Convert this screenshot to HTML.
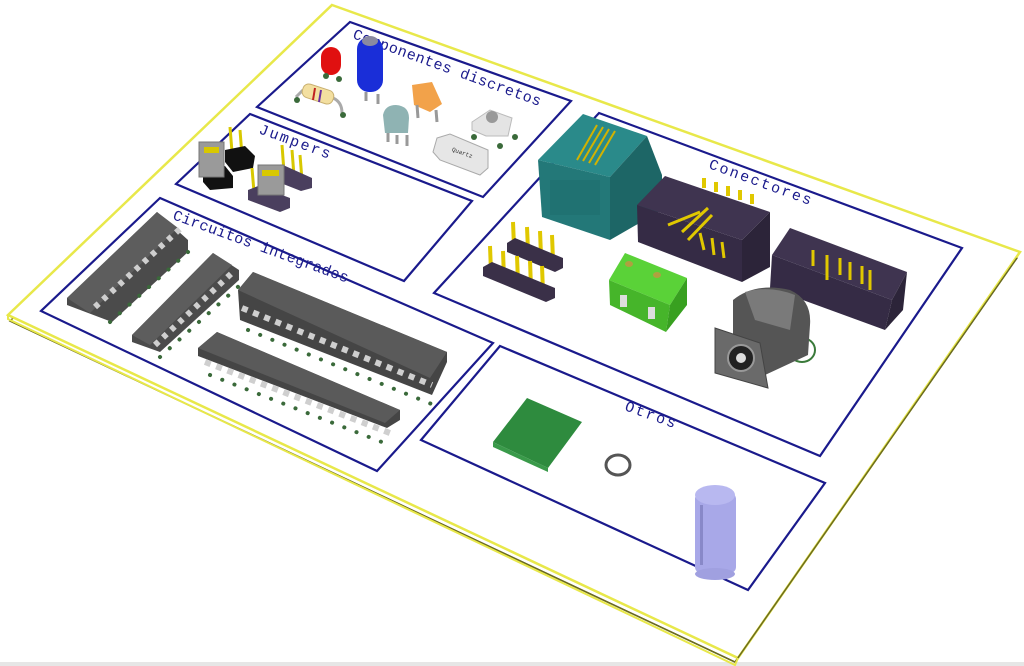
<!DOCTYPE html>
<html><head><meta charset="utf-8"><style>
html,body{margin:0;padding:0;background:#fff;width:1024px;height:666px;overflow:hidden}
svg{display:block}
text{font-family:"Liberation Mono",monospace;fill:#1a1a8c;font-size:15px;letter-spacing:2px}
</style></head><body>
<svg width="1024" height="666" viewBox="0 0 1024 666" xmlns="http://www.w3.org/2000/svg">
<rect x="0" y="662" width="1024" height="4" fill="#e6e6e6"/>
<!-- board -->
<polygon points="333,11 1017,258 735,662 10,321" fill="none" stroke="#6b6b20" stroke-width="1.5"/>
<polygon points="332,5 1020,252 738,658 8,315" fill="#fff" stroke="#e8e84a" stroke-width="2.5"/>
<polyline points="10,321 735,662 1017,258" fill="none" stroke="#6b6b20" stroke-width="1.5"/>
<polyline points="8,315 8,319 735,665 738,658" fill="none" stroke="#e8e84a" stroke-width="2"/>
<!-- section boxes -->
<g fill="none" stroke="#1a1a8c" stroke-width="2.2">
<polygon points="350,22 571,101 483,197 257,107"/>
<polygon points="250,114 472,201 404,281 176,184"/>
<polygon points="599,113 962,248 820,456 434,293"/>
<polygon points="160,198 493,343 377,471 41,311"/>
<polygon points="500,346 825,483 748,590 421,440"/>
</g>
<g>
<text transform="translate(352,38) rotate(20)" style="letter-spacing:0.5px">Componentes discretos</text>
<text transform="translate(258,133) rotate(20)">Jumpers</text>
<text transform="translate(708,168) rotate(20)">Conectores</text>
<text transform="translate(172,219) rotate(20)" style="letter-spacing:0.3px">Circuitos integrados</text>
<text transform="translate(624,410) rotate(20)">Otros</text>
</g>
<!-- discretos -->
<g>
<rect x="321" y="47" width="20" height="28" rx="10" fill="#e01010"/>
<circle cx="326" cy="76" r="3" fill="#3a6a3a"/><circle cx="339" cy="79" r="3" fill="#3a6a3a"/>
<rect x="357" y="37" width="26" height="55" rx="12" fill="#1a2ed8"/>
<ellipse cx="370" cy="41" rx="8" ry="5" fill="#8a8aa0"/>
<line x1="366" y1="92" x2="366" y2="101" stroke="#999" stroke-width="3"/><line x1="378" y1="94" x2="378" y2="104" stroke="#999" stroke-width="3"/>
<path d="M296,97 L303,90 M333,98 Q342,102 342,113" stroke="#aaa" stroke-width="3" fill="none"/>
<rect x="302" y="87" width="32" height="14" rx="6" transform="rotate(18 318 94)" fill="#f3dfa0" stroke="#c9b070"/>
<line x1="315" y1="88" x2="313" y2="100" stroke="#c02020" stroke-width="2"/><line x1="321" y1="90" x2="319" y2="102" stroke="#6a30a0" stroke-width="2"/>
<circle cx="297" cy="100" r="3" fill="#3a6a3a"/><circle cx="343" cy="115" r="3" fill="#3a6a3a"/>
<polygon points="412,85 432,82 442,104 430,112 414,105" fill="#f2a24a"/>
<line x1="417" y1="105" x2="418" y2="118" stroke="#999" stroke-width="3"/><line x1="436" y1="110" x2="437" y2="122" stroke="#999" stroke-width="3"/>
<path d="M383,115 Q385,105 396,105 Q409,106 409,118 L408,133 L385,133 Z" fill="#8fb3b3"/>
<line x1="388" y1="133" x2="388" y2="142" stroke="#999" stroke-width="3"/><line x1="397" y1="135" x2="397" y2="144" stroke="#999" stroke-width="3"/><line x1="407" y1="135" x2="407" y2="146" stroke="#999" stroke-width="3"/>
<polygon points="472,122 490,110 512,118 508,136 486,136 472,130" fill="#e4e4e4" stroke="#bbb"/>
<circle cx="492" cy="117" r="6" fill="#999"/>
<circle cx="474" cy="137" r="3" fill="#3a6a3a"/><circle cx="515" cy="137" r="3" fill="#3a6a3a"/><circle cx="500" cy="146" r="3" fill="#3a6a3a"/>
<path d="M437,138 L450,134 L488,150 L488,168 L480,175 L440,160 L433,152 Z" fill="#e6e6e6" stroke="#aaa"/>
<text x="452" y="152" transform="rotate(20 455 150)" style="font-size:6px;fill:#333;letter-spacing:0">Quartz</text>
</g>
<!-- jumpers -->
<g>
<line x1="230" y1="127" x2="232" y2="152" stroke="#d8c800" stroke-width="3"/><line x1="240" y1="130" x2="242" y2="156" stroke="#d8c800" stroke-width="3"/>
<polygon points="225,150 245,146 255,156 253,168 233,172 225,162" fill="#111"/>
<polygon points="203,170 225,166 233,176 233,188 210,190 203,182" fill="#111"/>
<rect x="199" y="142" width="25" height="35" fill="#9a9a9a" stroke="#777"/>
<rect x="204" y="147" width="15" height="6" fill="#d8c800"/>
<line x1="282" y1="145" x2="284" y2="172" stroke="#d8c800" stroke-width="3"/><line x1="292" y1="150" x2="294" y2="176" stroke="#d8c800" stroke-width="3"/><line x1="300" y1="155" x2="302" y2="180" stroke="#d8c800" stroke-width="3"/>
<polygon points="273,167 283,165 312,178 312,188 301,191 273,180" fill="#4a3f5e"/>
<line x1="252" y1="168" x2="254" y2="192" stroke="#d8c800" stroke-width="3"/>
<polygon points="248,190 258,186 290,198 290,208 280,212 248,200" fill="#4a3f5e"/>
<rect x="258" y="165" width="26" height="30" fill="#9a9a9a" stroke="#777"/>
<rect x="262" y="170" width="17" height="6" fill="#d8c800"/>
</g>
<!-- ICs -->
<g>
<polygon points="67,298 157,212 188,240 188,252 112,322 67,305" fill="#4b4b4b"/>
<polygon points="67,298 157,212 178,228 90,313" fill="#5d5d5d"/>
<polygon points="132,335 213,253 239,270 239,280 160,352 132,342" fill="#4b4b4b"/>
<polygon points="132,335 213,253 232,265 150,345" fill="#5d5d5d"/>
<polygon points="238,290 253,272 447,352 447,362 432,395 240,320" fill="#454545"/>
<polygon points="238,290 253,272 447,352 430,378" fill="#5a5a5a"/>
<polygon points="198,348 217,332 400,410 400,420 387,428 198,356" fill="#454545"/>
<polygon points="198,348 217,332 400,410 385,423" fill="#5a5a5a"/>
<g stroke="#cfcfcf" stroke-width="6">
<line x1="95" y1="307" x2="181" y2="228" stroke-dasharray="5 6"/>
<line x1="155" y1="345" x2="233" y2="272" stroke-dasharray="5 6"/>
<line x1="242" y1="308" x2="432" y2="385" stroke-dasharray="6 6"/>
<line x1="205" y1="362" x2="395" y2="435" stroke-dasharray="6 6"/>
</g>
<g stroke="#3a6a3a" stroke-width="4" stroke-linecap="round">
<line x1="110" y1="322" x2="188" y2="252" stroke-dasharray="0.1 13"/>
<line x1="160" y1="357" x2="240" y2="285" stroke-dasharray="0.1 13"/>
<line x1="248" y1="330" x2="434" y2="405" stroke-dasharray="0.1 13"/>
<line x1="210" y1="375" x2="392" y2="446" stroke-dasharray="0.1 13"/>
</g>
</g>
<!-- connectors -->
<g>
<polygon points="538,160 583,114 647,136 610,177" fill="#2a8a8a"/>
<polygon points="538,160 610,177 610,240 542,217" fill="#237878"/>
<polygon points="610,177 647,136 662,175 662,210 610,240" fill="#1d6666"/>
<rect x="550" y="180" width="50" height="35" fill="#1e6e6e" opacity=".6"/>
<g stroke="#d2b200" stroke-width="2"><line x1="577" y1="160" x2="597" y2="125"/><line x1="583" y1="161" x2="603" y2="127"/><line x1="589" y1="163" x2="609" y2="129"/><line x1="595" y1="165" x2="615" y2="131"/></g>
<g stroke="#e0c800" stroke-width="4"><line x1="704" y1="178" x2="704" y2="188"/><line x1="716" y1="182" x2="716" y2="192"/><line x1="728" y1="186" x2="728" y2="196"/><line x1="740" y1="190" x2="740" y2="200"/><line x1="752" y1="194" x2="752" y2="204"/></g>
<polygon points="637,205 665,176 770,212 742,240" fill="#3f3450"/>
<polygon points="637,205 742,240 742,282 638,242" fill="#352b45"/>
<polygon points="742,240 770,212 770,267 742,282" fill="#2c2439"/>
<g stroke="#e0c800" stroke-width="3"><line x1="668" y1="225" x2="700" y2="212"/><line x1="682" y1="232" x2="708" y2="208"/><line x1="688" y1="240" x2="712" y2="215"/><line x1="700" y1="233" x2="704" y2="250"/><line x1="712" y1="238" x2="714" y2="255"/><line x1="722" y1="242" x2="724" y2="258"/></g>
<polygon points="772,255 790,228 907,272 892,300" fill="#3f3450"/>
<polygon points="772,255 892,300 885,330 770,288" fill="#352b45"/>
<polygon points="892,300 907,272 903,310 885,330" fill="#2c2439"/>
<g stroke="#e0c800" stroke-width="3"><line x1="813" y1="250" x2="813" y2="266"/><line x1="827" y1="255" x2="827" y2="280"/><line x1="840" y1="258" x2="840" y2="275"/><line x1="850" y1="262" x2="850" y2="280"/><line x1="862" y1="266" x2="862" y2="284"/><line x1="870" y1="270" x2="870" y2="290"/></g>
<polygon points="609,280 625,253 687,278 670,305" fill="#5ad238"/>
<polygon points="609,280 670,305 666,332 610,305" fill="#46b52a"/>
<polygon points="670,305 687,278 687,305 666,332" fill="#38a020"/>
<ellipse cx="629" cy="264" rx="4" ry="3" fill="#b0a040"/><ellipse cx="657" cy="275" rx="4" ry="3" fill="#b0a040"/>
<rect x="620" y="295" width="7" height="12" fill="#ddd"/><rect x="648" y="307" width="7" height="12" fill="#ddd"/>
<g stroke="#e0c800" stroke-width="4"><line x1="513" y1="222" x2="514" y2="246"/><line x1="527" y1="227" x2="528" y2="250"/><line x1="540" y1="231" x2="541" y2="255"/><line x1="552" y1="235" x2="553" y2="260"/></g>
<polygon points="507,243 515,238 563,258 563,268 555,272 507,252" fill="#3a3048"/>
<g stroke="#e0c800" stroke-width="4"><line x1="490" y1="246" x2="491" y2="272"/><line x1="503" y1="251" x2="504" y2="278"/><line x1="517" y1="256" x2="518" y2="282"/><line x1="530" y1="261" x2="531" y2="287"/><line x1="542" y1="266" x2="543" y2="292"/></g>
<polygon points="483,267 492,262 555,288 555,298 546,302 483,276" fill="#3a3048"/>
<ellipse cx="802" cy="350" rx="13" ry="12" fill="none" stroke="#3a7a3a" stroke-width="2"/>
<path d="M733,300 Q755,282 790,290 Q812,300 810,325 L808,355 L765,375 L733,345 Z" fill="#555"/>
<path d="M745,292 Q770,285 795,295 L790,330 L755,320 Z" fill="#7a7a7a"/>
<polygon points="715,328 760,343 768,388 715,373" fill="#6a6a6a" stroke="#444"/>
<circle cx="741" cy="358" r="13" fill="#222" stroke="#999" stroke-width="2"/>
<circle cx="741" cy="358" r="5" fill="#ddd"/>
</g>
<!-- otros -->
<polygon points="527,398 582,422 548,468 493,442" fill="#2e8b3e"/>
<polygon points="493,442 548,468 548,472 493,447" fill="#3a9a4a"/>
<ellipse cx="618" cy="465" rx="12" ry="10" fill="none" stroke="#555" stroke-width="3"/>
<rect x="695" y="493" width="41" height="80" rx="6" fill="#a8a8e8"/>
<ellipse cx="715" cy="574" rx="20" ry="6" fill="#a0a0e0"/>
<ellipse cx="715" cy="495" rx="20" ry="10" fill="#b8b8f0"/>
<rect x="700" y="505" width="3" height="60" fill="#8888c8"/>
</svg>
</body></html>
